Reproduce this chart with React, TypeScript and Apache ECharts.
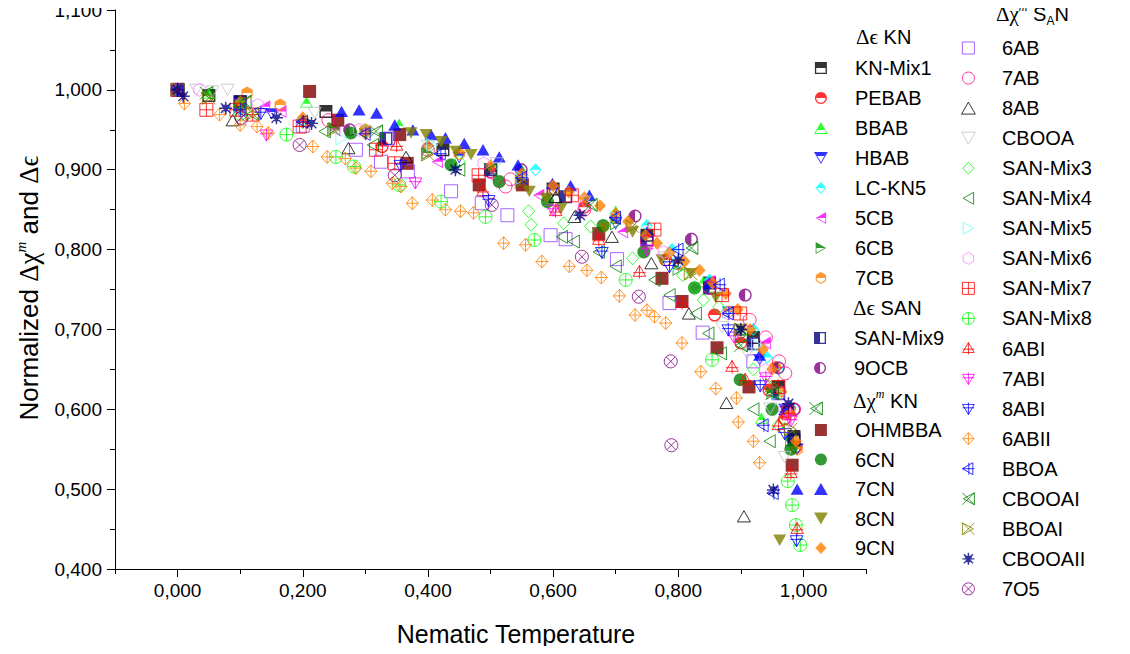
import React, { useEffect, useRef } from 'react';
import * as echarts from 'echarts';

type P = [number, number];

// ---------------- data (x = reduced nematic temperature, y = normalized value) -------------
const KN_MIX1: P[] = [[0,1],[0.05,0.993],[0.1,0.985],[0.237,0.973],[0.424,0.925],[0.6,0.876],[0.75,0.818],[0.85,0.758],[0.92,0.69],[0.96,0.628],[0.985,0.566]];
const PEBAB: P[] = [[0,1],[0.1,0.981],[0.327,0.929],[0.5,0.897],[0.65,0.853],[0.78,0.787],[0.858,0.718],[0.9,0.683],[0.945,0.624],[0.97,0.588],[0.988,0.553]];
const BBAB: P[] = [[0,1],[0.05,0.996],[0.206,0.985],[0.354,0.957],[0.55,0.9],[0.7,0.848],[0.84,0.76],[0.9,0.7],[0.933,0.589]];
const HBAB: P[] = [[0,1],[0.15,0.97],[0.3,0.945],[0.45,0.915],[0.6,0.872],[0.7,0.832],[0.8,0.78],[0.88,0.722],[0.93,0.662],[0.97,0.6],[0.99,0.55]];
const LC_KN5: P[] = [[0,1],[0.2,0.962],[0.4,0.93],[0.572,0.9],[0.75,0.83],[0.79,0.8],[0.85,0.762],[0.92,0.7],[0.942,0.665],[0.96,0.65],[0.98,0.602]];
const CB5: P[] = [[0,1],[0.139,0.979],[0.165,0.973],[0.251,0.95],[0.415,0.91],[0.497,0.894],[0.577,0.868],[0.711,0.822],[0.85,0.76],[0.939,0.683],[0.975,0.6]];
const CB6: P[] = [[0,1],[0.1,0.98],[0.25,0.952],[0.4,0.921],[0.55,0.884],[0.7,0.832],[0.8,0.775],[0.9,0.692],[0.95,0.62],[0.98,0.56]];
const CB7: P[] = [[0,1],[0.111,0.996],[0.164,0.981],[0.3,0.95],[0.45,0.92],[0.6,0.876],[0.7,0.84],[0.8,0.782],[0.88,0.722],[0.955,0.653],[0.975,0.6],[0.99,0.55]];
const SAN_MIX9: P[] = [[0,1],[0.1,0.985],[0.333,0.939],[0.5,0.9],[0.62,0.866],[0.75,0.812],[0.85,0.752],[0.92,0.682],[0.96,0.62],[0.985,0.562]];
const OCB9: P[] = [[0,1],[0.275,0.95],[0.549,0.9],[0.731,0.842],[0.821,0.813],[0.907,0.743],[0.96,0.652],[0.985,0.6]];
const OHMBBA: P[] = [[0,1],[0.211,0.998],[0.256,0.962],[0.355,0.944],[0.367,0.908],[0.482,0.881],[0.551,0.881],[0.673,0.82],[0.774,0.764],[0.806,0.735],[0.862,0.677],[0.913,0.628],[0.982,0.53]];
const CN6: P[] = [[0,1],[0.1,0.982],[0.277,0.946],[0.437,0.906],[0.514,0.885],[0.591,0.86],[0.68,0.83],[0.745,0.797],[0.826,0.752],[0.899,0.637],[0.95,0.6],[0.98,0.55]];
const CN7: P[] = [[0,1],[0.262,0.973],[0.29,0.975],[0.318,0.971],[0.347,0.956],[0.376,0.95],[0.405,0.944],[0.428,0.94],[0.458,0.933],[0.488,0.925],[0.514,0.916],[0.544,0.906],[0.599,0.883],[0.628,0.88],[0.658,0.868],[0.75,0.822],[0.85,0.758],[0.93,0.668],[0.97,0.6],[0.99,0.5]];
const CN8: P[] = [[0,1],[0.373,0.946],[0.397,0.944],[0.421,0.935],[0.445,0.923],[0.469,0.919],[0.562,0.873],[0.589,0.864],[0.613,0.852],[0.682,0.827],[0.727,0.822],[0.774,0.787],[0.82,0.77],[0.86,0.74],[0.9,0.7],[0.962,0.436]];
const CN9: P[] = [[0,1],[0.1,0.985],[0.2,0.965],[0.3,0.945],[0.4,0.93],[0.5,0.905],[0.55,0.895],[0.6,0.88],[0.625,0.872],[0.65,0.865],[0.675,0.855],[0.7,0.845],[0.72,0.835],[0.748,0.818],[0.766,0.808],[0.786,0.796],[0.81,0.785],[0.834,0.774],[0.855,0.758],[0.876,0.745],[0.895,0.725],[0.915,0.7],[0.935,0.675],[0.95,0.65],[0.965,0.622],[0.978,0.595],[0.988,0.56]];
const AB6: P[] = [[0,1],[0.1,0.98],[0.2,0.955],[0.285,0.925],[0.325,0.91],[0.336,0.939],[0.368,0.898],[0.437,0.873],[0.486,0.858],[0.527,0.843],[0.596,0.818],[0.62,0.813],[0.702,0.788],[0.786,0.733],[0.839,0.696],[0.92,0.66],[0.96,0.62]];
const AB7: P[] = [[0,1],[0.241,0.962],[0.4,0.925],[0.524,0.879],[0.532,0.888],[0.65,0.85],[0.75,0.81],[0.85,0.752],[0.914,0.712],[0.94,0.69],[0.961,0.66],[0.971,0.645],[0.985,0.6]];
const AB8: P[] = [[0,1],[0.088,0.962],[0.273,0.927],[0.365,0.916],[0.604,0.866],[0.634,0.841],[0.694,0.816],[0.757,0.783],[0.817,0.72],[0.877,0.608],[0.905,0.466]];
const CBOOA: P[] = [[0,1],[0.03,1.0],[0.056,0.998],[0.08,1.0],[0.219,0.971],[0.4,0.93],[0.51,0.908],[0.65,0.86],[0.78,0.79],[0.87,0.703],[0.91,0.67],[0.947,0.601],[0.97,0.54]];
const SAN_MIX3: P[] = [[0,1],[0.1,0.98],[0.2,0.96],[0.3,0.948],[0.45,0.91],[0.561,0.848],[0.565,0.831],[0.617,0.833],[0.66,0.829],[0.727,0.789],[0.807,0.768],[0.826,0.752],[0.84,0.737],[0.865,0.728],[0.92,0.65],[0.96,0.58]];
const SAN_MIX4: P[] = [[0,1],[0.12,0.97],[0.235,0.948],[0.312,0.931],[0.45,0.9],[0.614,0.816],[0.633,0.81],[0.673,0.797],[0.7,0.779],[0.762,0.762],[0.786,0.743],[0.828,0.72],[0.848,0.695],[0.868,0.67],[0.92,0.6],[0.946,0.56]];
const SAN_MIX5: P[] = [[0,1],[0.262,0.939],[0.407,0.931],[0.55,0.89],[0.7,0.84],[0.8,0.782],[0.88,0.722],[0.926,0.68],[0.96,0.62]];
const SAN_MIX6: P[] = [[0,1],[0.035,1.0],[0.128,0.981],[0.29,0.95],[0.489,0.908],[0.65,0.855],[0.777,0.797],[0.88,0.72],[0.939,0.649],[0.97,0.6]];
const SAN_MIX7: P[] = [[0,1],[0.046,0.975],[0.094,0.975],[0.12,0.969],[0.195,0.954],[0.317,0.925],[0.347,0.908],[0.481,0.893],[0.63,0.868],[0.762,0.825],[0.87,0.743],[0.899,0.72],[0.96,0.628],[0.976,0.595]];
const SAN_MIX8: P[] = [[0,1],[0.1,0.97],[0.174,0.944],[0.253,0.916],[0.282,0.904],[0.354,0.881],[0.421,0.86],[0.492,0.841],[0.57,0.812],[0.716,0.762],[0.854,0.662],[0.975,0.51],[0.982,0.48],[0.988,0.455],[0.995,0.43]];
const ABI6: P[] = [[0,1],[0.2,0.96],[0.35,0.93],[0.488,0.873],[0.604,0.848],[0.673,0.812],[0.738,0.772],[0.806,0.733],[0.886,0.653],[0.907,0.637],[0.96,0.58],[0.98,0.52],[0.99,0.45]];
const ABI7: P[] = [[0,1],[0.142,0.944],[0.38,0.884],[0.6,0.85],[0.75,0.8],[0.889,0.691],[0.94,0.64],[0.98,0.586]];
const ABI8: P[] = [[0,1],[0.133,0.971],[0.356,0.906],[0.497,0.862],[0.678,0.797],[0.786,0.779],[0.88,0.7],[0.931,0.63],[0.97,0.57],[0.989,0.436]];
const ABII6: P[] = [[0.011,0.983],[0.067,0.969],[0.1,0.956],[0.127,0.954],[0.145,0.946],[0.216,0.929],[0.239,0.916],[0.268,0.914],[0.285,0.902],[0.309,0.898],[0.343,0.883],[0.357,0.879],[0.375,0.858],[0.407,0.862],[0.428,0.85],[0.452,0.848],[0.473,0.846],[0.521,0.808],[0.556,0.806],[0.582,0.785],[0.626,0.779],[0.654,0.774],[0.677,0.765],[0.706,0.742],[0.731,0.718],[0.75,0.724],[0.762,0.716],[0.78,0.708],[0.806,0.683],[0.836,0.647],[0.86,0.626],[0.893,0.614],[0.896,0.584],[0.92,0.56],[0.93,0.533]];
const BBOA: P[] = [[0,1],[0.1,0.975],[0.2,0.96],[0.3,0.945],[0.42,0.92],[0.55,0.89],[0.7,0.84],[0.8,0.8],[0.866,0.756],[0.88,0.72],[0.936,0.58],[0.952,0.495]];
const CBOOAI: P[] = [[0,1],[0.046,0.996],[0.107,0.985],[0.317,0.948],[0.5,0.9],[0.66,0.856],[0.821,0.802],[0.9,0.68],[0.95,0.62],[1.02,0.601]];
const BBOAI: P[] = [[0,1],[0.05,0.99],[0.12,0.97],[0.25,0.95],[0.4,0.919],[0.55,0.885],[0.727,0.829],[0.82,0.77],[0.9,0.7],[0.95,0.63],[0.98,0.575]];
const CBOOAII: P[] = [[0,1],[0.009,0.992],[0.077,0.977],[0.158,0.965],[0.214,0.958],[0.444,0.9],[0.643,0.843],[0.8,0.787],[0.9,0.7],[0.976,0.607],[0.952,0.499]];
const O75: P[] = [[0,1],[0.102,0.965],[0.195,0.931],[0.347,0.893],[0.502,0.856],[0.646,0.791],[0.737,0.741],[0.788,0.66],[0.789,0.555]];

const X_LABEL_VALUES = [0, 0.2, 0.4, 0.6, 0.8, 1.0];

// ---------------- marker shapes ----------------
const f2 = (n: number) => (Math.round(n * 100) / 100).toString();
const poly = (pts: P[]) => 'M' + pts.map(p => f2(p[0]) + ',' + f2(p[1])).join('L') + 'Z';
const ring = (cx: number, cy: number, r: number, n = 28): P[] => {
  const out: P[] = [];
  for (let i = 0; i < n; i++) { const a = (i / n) * Math.PI * 2; out.push([cx + r * Math.cos(a), cy + r * Math.sin(a)]); }
  return out;
};
const SQ: P[] = [[0, 0], [12, 0], [12, 12], [0, 12]];
const CIRC: P[] = ring(6.5, 6.5, 6.5);
const TRI_UP: P[] = [[6.5, 0], [13, 11.3], [0, 11.3]];
const TRI_DN: P[] = [[0, 0], [13, 0], [6.5, 11.3]];
const TRI_L: P[] = [[0, 6.5], [11.3, 0], [11.3, 13]];
const TRI_R: P[] = [[0, 0], [11.3, 6.5], [0, 13]];
const DIAM: P[] = [[6.5, 0], [13, 7], [6.5, 14], [0, 7]];
const HEX: P[] = [-90, -30, 30, 90, 150, 210].map(d => [6.5 + 6.5 * Math.cos(d * Math.PI / 180), 6.5 + 6.5 * Math.sin(d * Math.PI / 180)] as P);

function clipHalf(pts: P[], axis: 0 | 1, val: number): P[] {
  const out: P[] = [];
  for (let i = 0; i < pts.length; i++) {
    const a = pts[i], b = pts[(i + 1) % pts.length];
    const ina = a[axis] <= val, inb = b[axis] <= val;
    if (ina) out.push(a);
    if (ina !== inb) {
      const t = (val - a[axis]) / (b[axis] - a[axis]);
      out.push([a[0] + t * (b[0] - a[0]), a[1] + t * (b[1] - a[1])]);
    }
  }
  return out;
}
function halfSym(outer: P[], axis: 0 | 1): string {
  const cx = outer.reduce((s, p) => s + p[0], 0) / outer.length;
  const cy = outer.reduce((s, p) => s + p[1], 0) / outer.length;
  const k = 0.78;
  const inner: P[] = outer.map(p => [cx + (p[0] - cx) * k, cy + (p[1] - cy) * k]);
  const h = clipHalf(inner, axis, axis === 1 ? cy : cx);
  return 'path://' + poly(outer) + poly(inner.slice().reverse()) + poly(h);
}
const fullSym = (s: P[]) => 'path://' + poly(s);
const openSym = (s: P[], extra = '') => 'path://' + poly(s) + extra;

const XCROSS = 'M0,0L12,12M0,12L12,0';

type Kind = 'full' | 'half' | 'open';
interface Def { name: string; data: P[]; symbol: string; color: string; kind: Kind; lw?: number; size?: number }

const DEFS_COL1: Def[] = [
  { name: 'KN-Mix1', data: KN_MIX1, symbol: halfSym(SQ, 1), color: '#000000', kind: 'half' },
  { name: 'PEBAB', data: PEBAB, symbol: halfSym(CIRC, 1), color: '#ff0000', kind: 'half' },
  { name: 'BBAB', data: BBAB, symbol: halfSym(TRI_UP, 1), color: '#00ff00', kind: 'half' },
  { name: 'HBAB', data: HBAB, symbol: halfSym(TRI_DN, 1), color: '#0000ff', kind: 'half' },
  { name: 'LC-KN5', data: LC_KN5, symbol: halfSym(DIAM, 1), color: '#00ffff', kind: 'half' },
  { name: '5CB', data: CB5, symbol: halfSym(TRI_L, 1), color: '#ff00ff', kind: 'half' },
  { name: '6CB', data: CB6, symbol: halfSym(TRI_R, 1), color: '#008000', kind: 'half' },
  { name: '7CB', data: CB7, symbol: halfSym(HEX, 1), color: '#ff8000', kind: 'half' },
];
const DEFS_COL1B: Def[] = [
  { name: 'SAN-Mix9', data: SAN_MIX9, symbol: halfSym(SQ, 0), color: '#000080', kind: 'half' },
  { name: '9OCB', data: OCB9, symbol: halfSym(CIRC, 0), color: '#800080', kind: 'half' },
];
const DEFS_COL1C: Def[] = [
  { name: 'OHMBBA', data: OHMBBA, symbol: fullSym(SQ), color: '#800000', kind: 'full' },
  { name: '6CN', data: CN6, symbol: fullSym(CIRC), color: '#008000', kind: 'full' },
  { name: '7CN', data: CN7, symbol: fullSym(TRI_UP), color: '#0000ff', kind: 'full' },
  { name: '8CN', data: CN8, symbol: fullSym(TRI_DN), color: '#808000', kind: 'full' },
  { name: '9CN', data: CN9, symbol: fullSym(DIAM), color: '#ff8000', kind: 'full' },
];
const DEFS_COL2: Def[] = [
  { name: '6AB', data: AB6, symbol: openSym(SQ), color: '#9040ff', kind: 'open' },
  { name: '7AB', data: AB7, symbol: openSym(CIRC), color: '#ff0080', kind: 'open' },
  { name: '8AB', data: AB8, symbol: openSym(TRI_UP), color: '#000000', kind: 'open' },
  { name: 'CBOOA', data: CBOOA, symbol: openSym(TRI_DN), color: '#c0c0c0', kind: 'open' },
  { name: 'SAN-Mix3', data: SAN_MIX3, symbol: openSym(DIAM), color: '#00ff00', kind: 'open' },
  { name: 'SAN-Mix4', data: SAN_MIX4, symbol: openSym(TRI_L), color: '#008000', kind: 'open' },
  { name: 'SAN-Mix5', data: SAN_MIX5, symbol: openSym(TRI_R), color: '#70ffff', kind: 'open' },
  { name: 'SAN-Mix6', data: SAN_MIX6, symbol: openSym(HEX), color: '#ff80ff', kind: 'open' },
  { name: 'SAN-Mix7', data: SAN_MIX7, symbol: openSym(SQ, 'M6,0V12M0,6H12'), color: '#ff0000', kind: 'open' },
  { name: 'SAN-Mix8', data: SAN_MIX8, symbol: openSym(CIRC, 'M6.5,0V13M0,6.5H13'), color: '#00ff00', kind: 'open' },
  { name: '6ABI', data: ABI6, symbol: openSym(TRI_UP, 'M6.5,0V13.5M0,7.5H13'), color: '#ff0000', kind: 'open' },
  { name: '7ABI', data: ABI7, symbol: openSym([[0, 2], [13, 2], [6.5, 13.3]], 'M6.5,0V13.3M0,5.8H13'), color: '#ff00ff', kind: 'open' },
  { name: '8ABI', data: ABI8, symbol: openSym([[0, 2], [13, 2], [6.5, 13.3]], 'M6.5,0V13.3M0,5.8H13'), color: '#0000ff', kind: 'open' },
  { name: '6ABII', data: ABII6, symbol: openSym(DIAM, 'M6.5,0V14M0,7H13'), color: '#ff8000', kind: 'open' },
  { name: 'BBOA', data: BBOA, symbol: openSym([[0, 6.5], [11.3, 0], [11.3, 13]], 'M0,6.5H13M7,0V13'), color: '#0000ff', kind: 'open' },
  { name: 'CBOOAI', data: CBOOAI, symbol: openSym([[1, 6], [12, 0], [12, 12]], XCROSS), color: '#008000', kind: 'open' },
  { name: 'BBOAI', data: BBOAI, symbol: openSym([[0, 0], [11, 6], [0, 12]], XCROSS), color: '#808000', kind: 'open' },
  { name: 'CBOOAII', data: CBOOAII, symbol: 'path://M6,0V12M0,6H12M1.5,1.5L10.5,10.5M10.5,1.5L1.5,10.5M3,3.5L9,3.5L6,10Z', color: '#000080', kind: 'open', lw: 1.4 },
  { name: '7O5', data: O75, symbol: openSym(ring(6, 6, 6), 'M1.8,1.8L10.2,10.2M1.8,10.2L10.2,1.8'), color: '#800080', kind: 'open' },
];

const ALL_DEFS: Def[] = [...DEFS_COL1, ...DEFS_COL1B, ...DEFS_COL1C, ...DEFS_COL2];

const FONT = "'Liberation Sans', Arial, Helvetica, sans-serif";
const SERIF = "'Liberation Serif', 'DejaVu Serif', 'Times New Roman', serif";

const styleOf = (d: Def) =>
  d.kind === 'open'
    ? { color: 'rgba(0,0,0,0)', borderColor: d.color, borderWidth: d.lw ?? 1 }
    : { color: d.color, borderWidth: 0 };

const fmtNum = (v: number) => v.toFixed(3).replace('.', ',');

const RICH = {
  g: { fontFamily: SERIF, fontSize: 21, lineHeight: 26, fill: '#000' },
  s: { fontFamily: FONT, fontSize: 20, lineHeight: 26, fill: '#000' },
  sup: { fontFamily: SERIF, fontStyle: 'italic', fontSize: 12, lineHeight: 13, verticalAlign: 'top', fill: '#000' },
  sub: { fontFamily: FONT, fontSize: 12, lineHeight: 12, verticalAlign: 'bottom', fill: '#000' },
};
const RICH_T = {
  g: { fontFamily: SERIF, fontSize: 27, lineHeight: 32, fill: '#000' },
  s: { fontFamily: FONT, fontSize: 26, lineHeight: 32, fill: '#000' },
  sup: { fontFamily: SERIF, fontStyle: 'italic', fontSize: 15, lineHeight: 16, verticalAlign: 'top', fill: '#000' },
};

function legendFor(defs: Def[], left: number, top: number, itemWidth: number, gap: number) {
  return {
    orient: 'vertical',
    left, top,
    padding: 0,
    itemWidth, itemHeight: 12,
    itemGap: gap,
    selectedMode: false,
    textStyle: { fontFamily: FONT, fontSize: 20, lineHeight: 20, color: '#000' },
    data: defs.map(d => ({ name: d.name, icon: d.symbol, itemStyle: styleOf(d) })),
  };
}

const header = (x: number, y: number, text: string) => ({
  type: 'text', x, y, silent: true,
  style: { text, rich: RICH, align: 'left', verticalAlign: 'middle', textAlign: 'left', textVerticalAlign: 'middle' },
});

export default function App() {
  const ref = useRef<HTMLDivElement>(null);
  useEffect(() => {
    if (!ref.current) return;
    const chart = echarts.init(ref.current, null, { renderer: 'svg' });
    const option: any = {
      animation: false,
      backgroundColor: '#ffffff',
      textStyle: { fontFamily: FONT },
      grid: { left: 115, right: 264, top: 10, bottom: 85, containLabel: false },
      xAxis: [
        {
          type: 'value', min: -0.1, max: 1.1, interval: 0.1, position: 'bottom',
          axisLine: { show: true, onZero: false, lineStyle: { color: '#000', width: 1 } },
          axisTick: { show: true, inside: false, length: 8, customValues: X_LABEL_VALUES, lineStyle: { color: '#000' } },
          axisLabel: {
            customValues: X_LABEL_VALUES,
            margin: 12, color: '#000', fontSize: 19, fontFamily: FONT,
            formatter: (v: number) => (Math.abs(Math.round(v * 10)) % 2 === 1 ? '' : fmtNum(v)),
          },
          splitLine: { show: false },
        },
        {
          type: 'value', min: -0.1, max: 1.1, interval: 0.1, position: 'bottom', gridIndex: 0,
          axisLine: { show: false, onZero: false },
          axisTick: { show: true, inside: false, length: 5, lineStyle: { color: '#000' } },
          axisLabel: { show: false },
          splitLine: { show: false },
        },
      ],
      yAxis: {
        type: 'value', min: 0.4, max: 1.1, interval: 0.1,
        axisLine: { show: true, onZero: false, lineStyle: { color: '#000', width: 1 } },
        axisTick: { show: true, inside: false, length: 8, lineStyle: { color: '#000' } },
        minorTick: { show: true, splitNumber: 2, length: 5, lineStyle: { color: '#000' } },
        axisLabel: { margin: 13, color: '#000', fontSize: 19, fontFamily: FONT, formatter: fmtNum },
        splitLine: { show: false },
        minorSplitLine: { show: false },
      },
      legend: [
        legendFor(DEFS_COL1, 814, 58, 58, 10),
        legendFor(DEFS_COL1B, 814, 328, 58, 10),
        legendFor(DEFS_COL1C, 814, 420, 58, 9.5),
        legendFor(DEFS_COL2, 961, 38, 57, 10.05),
      ],
      graphic: [
        header(856, 37, '{g|Δϵ}{s| KN}'),
        header(853, 308, '{g|Δϵ}{s| SAN}'),
        header(853, 401, '{g|Δχ}{sup|m}{s| KN}'),
        header(996, 14, '{g|Δχ}{sup|m}{s| S}{sub|A}{s|N}'),
        {
          type: 'text', x: 29, y: 288, rotation: Math.PI / 2, silent: true,
          style: {
            text: '{s|Normalized }{g|Δχ}{sup|m}{s| and }{g|Δϵ}', rich: RICH_T,
            align: 'center', verticalAlign: 'middle', textAlign: 'center', textVerticalAlign: 'middle',
          },
        },
        {
          type: 'text', x: 516, y: 634, silent: true,
          style: {
            text: 'Nematic Temperature', fontFamily: FONT, fontSize: 25, fill: '#000',
            align: 'center', verticalAlign: 'middle', textAlign: 'center', textVerticalAlign: 'middle',
          },
        },
      ],
      series: ALL_DEFS.map(d => ({
        name: d.name,
        type: 'scatter',
        xAxisIndex: 0,
        yAxisIndex: 0,
        symbol: d.symbol,
        symbolSize: d.size ?? 13,
        symbolKeepAspect: true,
        silent: true,
        itemStyle: styleOf(d),
        emphasis: { disabled: true },
        data: d.data,
      })),
    };
    chart.setOption(option);
    return () => chart.dispose();
  }, []);
  return <div ref={ref} style={{ width: 1130, height: 654, margin: -8 }} />;
}
